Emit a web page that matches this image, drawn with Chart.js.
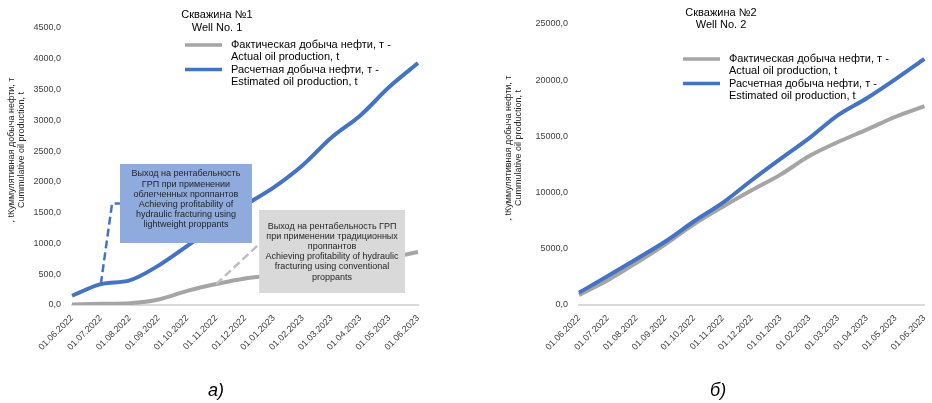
<!DOCTYPE html>
<html>
<head>
<meta charset="utf-8">
<script src="https://cdn.jsdelivr.net/npm/chart.js@4/dist/chart.umd.min.js"></script>
<style>
  body { margin: 0; background: #fff; width: 932px; height: 403px; overflow: hidden; }
  .wrap { position: absolute; top: 0; width: 466px; height: 403px; }
  .cap { position: absolute; top: 380px; font: italic 18px "Liberation Sans", Arial, sans-serif; color: #000; }
</style>
</head>
<body>
<div class="wrap" style="left:0"><canvas id="well1"></canvas></div>
<div class="wrap" style="left:466px"><canvas id="well2"></canvas></div>
<div class="cap" style="left:208px">а)</div>
<div class="cap" style="left:710px">б)</div>
<script>
const months = ['01.06.2022', '01.07.2022', '01.08.2022', '01.09.2022', '01.10.2022', '01.11.2022', '01.12.2022',
                '01.01.2023', '01.02.2023', '01.03.2023', '01.04.2023', '01.05.2023', '01.06.2023'];

// накопленная добыча, т
const well1Actual    = [10, 20, 30, 90, 230, 340, 430, 480, 540, 610, 690, 770, 860];
const well1Estimated = [150, 340, 400, 640, 960, 1290, 1620, 1910, 2270, 2720, 3080, 3540, 3930];
const well2Actual    = [890, 2200, 3760, 5400, 7200, 8750, 10200, 11600, 13250, 14500, 15600, 16750, 17700];
const well2Estimated = [1100, 2580, 4100, 5650, 7450, 9100, 11100, 13000, 14850, 16900, 18400, 20100, 21900];

const legendActual = ['Фактическая добыча нефти, т -', 'Actual oil production, t'];
const legendEstimated = ['Расчетная добыча нефти, т -', 'Estimated oil production, t'];
const yTitle = [', tКуммулятивная добыча нефти, т', 'Cummulative oil production, t'];

const FONT = '"Liberation Sans", Arial, sans-serif';
const GRAY = '#a5a5a5';
const BLUE = '#4472c4';

// подписи, легенда и выноски рисуем сами
const decor = {
  id: 'decor',
  afterDatasetsDraw(chart, args, o) {
    const {ctx, scales: {x, y}} = chart;
    (o.notes || []).forEach(n => {
      ctx.save();
      ctx.strokeStyle = n.lead;
      ctx.lineWidth = 2.5;
      ctx.setLineDash([8, 4]);
      ctx.beginPath();
      n.path.forEach(([i, v], k) => {
        const px = x.getPixelForValue(i), py = y.getPixelForValue(v);
        k ? ctx.lineTo(px, py) : ctx.moveTo(px, py);
      });
      ctx.stroke();
      ctx.restore();
    });
    (o.notes || []).forEach(n => {
      const l = x.getPixelForValue(n.box[0]), r = x.getPixelForValue(n.box[1]);
      const t = y.getPixelForValue(n.box[2]), b = y.getPixelForValue(n.box[3]);
      ctx.save();
      ctx.fillStyle = n.fill;
      ctx.fillRect(l, t, r - l, b - t);
      ctx.fillStyle = '#262626';
      ctx.font = '9px ' + FONT;
      ctx.textAlign = 'center';
      ctx.textBaseline = 'middle';
      n.text.forEach((s, k) => ctx.fillText(s, (l + r) / 2, t + n.textTop + k * 10.2));
      ctx.restore();
    });
  },
  afterDraw(chart, args, o) {
    const ctx = chart.ctx;
    ctx.save();
    ctx.fillStyle = '#000';
    ctx.textBaseline = 'middle';

    ctx.font = '11px ' + FONT;
    ctx.textAlign = 'center';
    o.title.forEach((s, k) => ctx.fillText(s, o.titleX, o.titleY + k * o.titleGap));

    ctx.textAlign = 'left';
    [[GRAY, legendActual], [BLUE, legendEstimated]].forEach(([c, lines], k) => {
      const top = o.legY + k * 24.5;
      ctx.strokeStyle = c;
      ctx.lineWidth = 3.5;
      ctx.beginPath();
      ctx.moveTo(o.legX, top);
      ctx.lineTo(o.legX + 37, top);
      ctx.stroke();
      lines.forEach((s, j) => ctx.fillText(s, o.legX + 46, top + j * 12));
    });

    ctx.font = '9px ' + FONT;
    ctx.textAlign = 'center';
    ctx.fillStyle = '#262626';
    yTitle.forEach((s, k) => {
      ctx.save();
      ctx.translate(o.axisX + k * 9.5, o.axisY);
      ctx.rotate(-Math.PI / 2);
      ctx.fillText(s, 0, 0);
      ctx.restore();
    });
    ctx.restore();
  }
};

function buildChart(id, cfg) {
  const tickFont = {family: FONT, size: 9};
  return new Chart(document.getElementById(id), {
    type: 'line',
    data: {
      labels: months,
      datasets: [
        {data: cfg.estimated, borderColor: BLUE, borderWidth: 4, pointRadius: 0, cubicInterpolationMode: 'monotone', order: 0},
        {data: cfg.actual, borderColor: GRAY, borderWidth: 4, pointRadius: 0, cubicInterpolationMode: 'monotone', order: 1}
      ]
    },
    options: {
      responsive: true,
      maintainAspectRatio: false,
      animation: false,
      layout: {padding: cfg.padding},
      plugins: {legend: {display: false}, tooltip: {enabled: false}, decor: cfg.decor},
      scales: {
        x: {
          grid: {display: false},
          border: {color: '#d9d9d9', width: 2},
          ticks: {autoSkip: false, minRotation: 45, maxRotation: 45, padding: 0, font: tickFont, color: '#404040'},
          afterFit: s => { s.height = 98; }
        },
        y: {
          min: 0,
          max: cfg.max,
          grid: {display: false},
          border: {display: false},
          ticks: {stepSize: cfg.step, font: tickFont, color: '#404040', callback: v => v.toFixed(1).replace('.', ',')},
          afterFit: s => { s.width = cfg.axisWidth; }
        }
      }
    },
    plugins: [decor]
  });
}

buildChart('well1', {
  actual: well1Actual,
  estimated: well1Estimated,
  max: 4500, step: 500, axisWidth: 72,
  padding: {top: 28, right: 48, bottom: 0, left: 0},
  decor: {
    title: ['Скважина №1', 'Well No. 1'], titleX: 217, titleY: 15, titleGap: 13,
    legX: 185, legY: 45,
    axisX: 12, axisY: 150,
    notes: [
      {
        lead: BLUE, fill: '#8faadc', textTop: 10,
        path: [[1, well1Estimated[1]], [1.39, 1650], [1.66, 1650]],
        box: [1.665, 6.24, 2291, 1007],
        text: ['Выход на рентабельность', 'ГРП при применении', 'облегченных проппантов',
               'Achieving profitability of', 'hydraulic fracturing using', 'lightweight proppants']
      },
      {
        lead: '#bfbfbf', fill: '#d9d9d9', textTop: 16,
        path: [[5, well1Actual[5]], [6.49, 990]],
        box: [6.49, 11.55, 1543, 195],
        text: ['Выход на рентабельность ГРП', 'при применении традиционных', 'проппантов',
               'Achieving profitability of hydraulic', 'fracturing using conventional', 'proppants']
      }
    ]
  }
});

buildChart('well2', {
  actual: well2Actual,
  estimated: well2Estimated,
  max: 25000, step: 5000, axisWidth: 113,
  padding: {top: 24, right: 3, bottom: 0, left: 0},
  decor: {
    title: ['Скважина №2', 'Well No. 2'], titleX: 255, titleY: 13, titleGap: 12,
    legX: 217, legY: 59,
    axisX: 43, axisY: 148
  }
});
</script>
</body>
</html>
